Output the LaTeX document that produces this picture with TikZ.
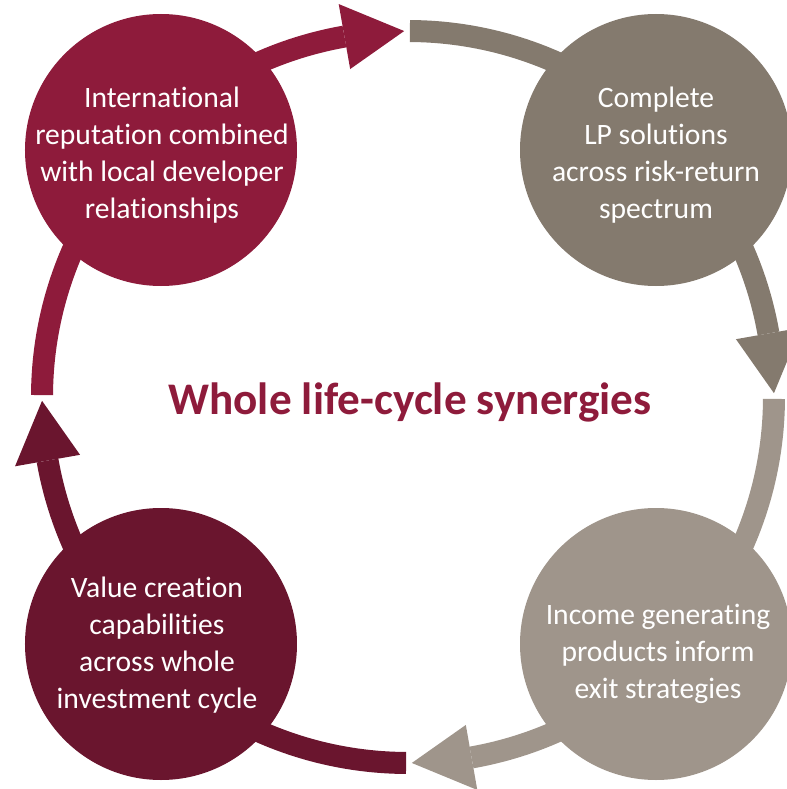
\documentclass[tikz,border=0pt]{standalone}
\usepackage{fontspec}
\setmainfont[Ligatures=NoCommon]{Carlito}
\definecolor{crimson}{HTML}{8E1B3B}
\definecolor{taupe}{HTML}{847A6E}
\definecolor{lighttaupe}{HTML}{9F958B}
\definecolor{maroon}{HTML}{6A152E}
\begin{document}
\begin{tikzpicture}[x=0.75pt,y=0.75pt,
  ring/.style={line width=16.5pt},
  stage/.style={circle, minimum size=204pt, inner sep=0pt},
  label/.style={text=white, align=center, font=\fontsize{22.2}{27.75}\selectfont},
  title/.style={text=crimson, font=\fontsize{33.9}{40}\selectfont\bfseries}]
\useasboundingbox (-408,-392) rectangle (378,397);

% cardinal points on the ring
\coordinate (N) at (89.7:366);
\coordinate (E) at (-0.3:366);
\coordinate (S) at (-90.3:366);
\coordinate (W) at (179.7:366);

% ring segments with their heads
\draw[ring, crimson] (W) arc[start angle=179.7, end angle=100, radius=366];
\fill[crimson] (100:333) -- (90.6:366) -- (100:399) -- cycle;

\draw[ring, taupe] (N) arc[start angle=89.7, end angle=10, radius=366];
\fill[taupe] (10:333) -- (0.6:366) -- (10:399) -- cycle;

\draw[ring, lighttaupe] (E) arc[start angle=-0.3, end angle=-80, radius=366];
\fill[lighttaupe] (-80:333) -- (-89.4:366) -- (-80:399) -- cycle;

\draw[ring, maroon] (S) arc[start angle=-90.3, end angle=-170, radius=366];
\fill[maroon] (-170:333) -- (-179.4:366) -- (-170:399) -- cycle;

% stages
\node[stage, fill=crimson] (tl) at (-247,247) {};
\node[stage, fill=taupe] (tr) at (248,247) {};
\node[stage, fill=lighttaupe] (br) at (248,-247) {};
\node[stage, fill=maroon] (bl) at (-247,-247) {};

\node[label] (tlt) at (-246,242)
  {International\\reputation combined\\with local developer\\relationships};
\node[label] (trt) at (248,242)
  {Complete\\LP solutions\\across risk-return\\spectrum};
\node[label] (brt) at (250,-257)
  {Income generating\\products inform\\exit strategies};
\node[label] (blt) at (-251,-248)
  {Value creation\\capabilities\\across whole\\investment cycle};

\node[title] (ttl) at (2,-5) {Whole life-cycle synergies};
\end{tikzpicture}
\end{document}
